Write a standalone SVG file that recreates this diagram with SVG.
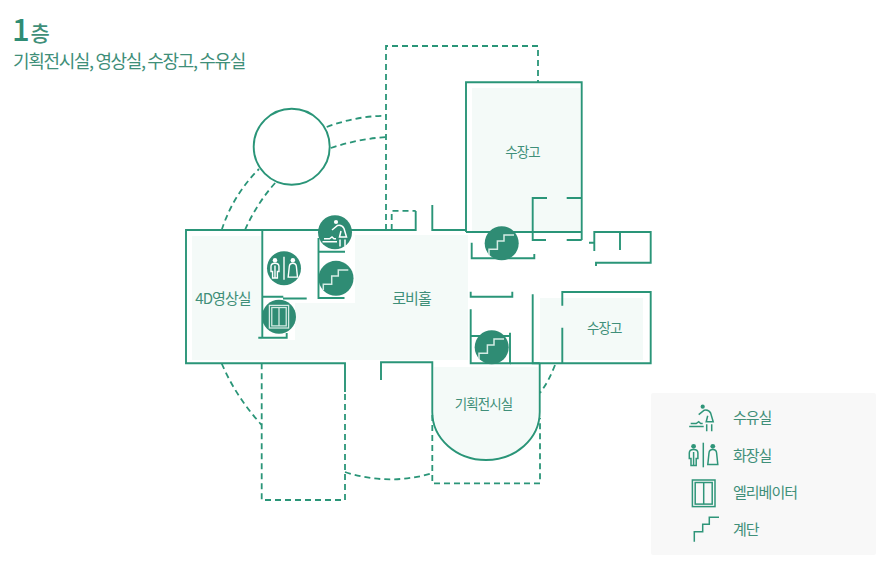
<svg xmlns="http://www.w3.org/2000/svg" xmlns:xlink="http://www.w3.org/1999/xlink" width="884" height="566" viewBox="0 0 884 566">
<style>
text{font-family:"Noto Sans CJK KR","Noto Sans",sans-serif;fill:#3f8f79}
.lb{font-size:13.5px;letter-spacing:-.9px;text-anchor:middle}
.lg{font-size:15px;letter-spacing:-1px}
.w{fill:none;stroke:#2a9578;stroke-width:1.9}
.d{fill:none;stroke:#2a9578;stroke-width:1.8;stroke-dasharray:6 4}
.f{fill:#f4faf8}
.c{fill:#2f8c74}
.ic{fill:none;stroke:currentColor;stroke-width:1.5}
.ifill{fill:currentColor;stroke:none}
</style>
<defs>
<path id="stair" d="M-12.7 12V6.300H-4.300V-2H2.300V-8H12.300"/>
<g id="toilet">
<path class="ic" d="M0 -12.300V12.300"/>
<circle class="ifill" cx="-9.700" cy="-8.700" r="2.400"/>
<path class="ic" d="M-9.700 -5.500Q-14 -5.500 -14 -2V3.500H-12.300V10.500H-7.100V3.500H-5.400V-2Q-5.400 -5.500 -9.700 -5.500ZM-9.700 -3V10"/>
<circle class="ifill" cx="9.500" cy="-8.700" r="2.400"/>
<path class="ic" d="M9.500 -5.500Q6 -5.500 5.700 -2L4.500 9.500H14.500L13.300 -2Q13 -5.500 9.500 -5.500Z"/>
</g>
<g id="nursing">
<circle class="ifill" cx="0" cy="0" r="2.100"/>
<path class="ic" d="M-4 8L1.500 3.500Q6 2.500 8 6.500L10.500 15H3.500L5 9M4 17.500V24.500M9 17.500V24.500"/>
<path class="ic" d="M-13.500 19.800H1M-12 16.800H-6.500L-4 15L-2 16.800H0"/>
</g>
<g id="lift">
<rect class="ic" x="-11.300" y="-13.300" width="22.600" height="26.600"/>
<rect class="ic" x="-8.500" y="-10.800" width="17" height="21.600"/>
<path class="ic" d="M0 -10.800V10.800"/>
</g>
</defs>
<rect id="legend-bg" x="651" y="393" width="225" height="162" rx="2" fill="#f8f8f8"/>
<g id="floors">
<path class="f" d="M355 235H468V360H192V236H262V340H295V303H355Z"/>
<rect class="f" x="472" y="88" width="108" height="144"/>
<rect class="f" x="540" y="298" width="103" height="62"/>
<path class="f" d="M434 367H538V413A52 46 0 0 1 434 413Z"/>
</g>
<g id="connectors">
<path class="d" d="M386 230V46H538V82"/>
<path class="d" d="M391.700 230V210.800H415.700"/>
<path class="d" d="M261.700 363.300V500H345V392"/>
<path class="d" d="M432.300 415V483.300H540V418"/>
<path class="d" d="M221.700 230Q233 195 259 169"/>
<path class="d" d="M245 230Q257 203 276 182"/>
<path class="d" d="M326.700 127Q356 116 386 115.700"/>
<path class="d" d="M330.700 148Q358 139 386 137"/>
<path class="d" d="M221.700 363.500Q236 397 261.700 425"/>
<path class="d" d="M345 472Q388 486 432 473.300"/>
<path class="d" d="M555 365Q549 381 540 393"/>
<path class="w" d="M386 230H186V363.300H345V392"/>
<path class="w" d="M186 230H306.700M262.300 230V337.500M262.300 296.700H283.300M283 298.500H306.700M258.300 337.700H286.700V333"/>
<path class="w" d="M318.500 238V298H344.500M318.500 251.700H345"/>
<path class="w" d="M352 230H415.700V211M432.300 205V230H466"/>
<path class="w" d="M466 232V82.300H581.700V240M466 232H581.700"/>
<path class="w" d="M547 198H532.700V240H546M566.700 198H581.700M566.700 240H581.700"/>
<path class="w" d="M471.700 242.700V258.300H534.300V254"/>
<path class="w" d="M589 242.700H594.300M594.300 251V232H650.700V262.700H596V266M620 232V250"/>
<path class="w" d="M470.700 291.700V296.700H512.300V291.700"/>
<path class="w" d="M470.700 309.300V363.300H510V332.700M470.700 336H510"/>
<path class="w" d="M532.700 294.300V363.300H650.700V292H562.300V305.700M562.300 327.700V363.300"/>
<path class="w" d="M381 380V362.300H432.300V412A53.700 48 0 0 0 539.700 412V363.300M510 363.300H539.700"/>
<circle class="w" cx="291.700" cy="146.700" r="38"/>
</g>
<g id="icon-nursing" style="color:#fff"><circle class="c" cx="335" cy="232.300" r="17"/><use xlink:href="#nursing" href="#nursing" x="336" y="222"/></g>
<g id="icon-stair-1" style="color:#d5ebe4"><circle class="c" cx="336" cy="278.300" r="17.500"/><use class="ic" href="#stair" x="336" y="278"/></g>
<g id="icon-toilet" style="color:#fff"><circle class="c" cx="284" cy="268.300" r="17"/><use href="#toilet" transform="translate(284 268.300) scale(.93)"/></g>
<g id="icon-lift" style="color:#d5ebe4"><circle class="c" cx="279" cy="316.700" r="17"/><use href="#lift" transform="translate(279 316.700) scale(.85)"/></g>
<g id="icon-stair-2" style="color:#d5ebe4"><circle class="c" cx="501.700" cy="243.300" r="17"/><use class="ic" href="#stair" x="501.700" y="243"/></g>
<g id="icon-stair-3" style="color:#d5ebe4"><circle class="c" cx="491.700" cy="347.300" r="17"/><use class="ic" href="#stair" x="491.700" y="347"/></g>
<g id="title">
<text x="12" y="41" font-size="31" font-weight="500" style="fill:#2f8c74">1</text>
<text x="30.500" y="41" font-size="21" font-weight="500">층</text>
<text x="13" y="67.500" font-size="18" letter-spacing="-1.350">기획전시실, 영상실, 수장고, 수유실</text>
</g>
<g id="room-1"><text class="lb" x="522.500" y="156.500">수장고</text></g>
<g id="room-2"><text class="lb" x="604.300" y="333">수장고</text></g>
<g id="room-3"><text class="lb" x="411.500" y="304" style="font-size:15px">로비홀</text></g>
<g id="room-4"><text class="lb" x="223" y="304" style="font-size:15px">4D영상실</text></g>
<g id="room-5"><text class="lb" x="483.500" y="409">기획전시실</text></g>
<g id="legend-nursing" style="color:#2f9579"><use href="#nursing" x="702.700" y="406.700"/><text class="lg" x="733" y="423">수유실</text></g>
<g id="legend-toilet" style="color:#2f9579"><use href="#toilet" x="703.300" y="455"/><text class="lg" x="733" y="461">화장실</text></g>
<g id="legend-lift" style="color:#2f9579"><use href="#lift" x="703.700" y="493.300"/><text class="lg" x="733" y="498">엘리베이터</text></g>
<g id="legend-stair" style="color:#2f9579"><path class="ic" d="M694.300 541.700V531.700H702.700V524.300H709.300V517.300H719"/><text class="lg" x="733" y="535">계단</text></g>
</svg>
